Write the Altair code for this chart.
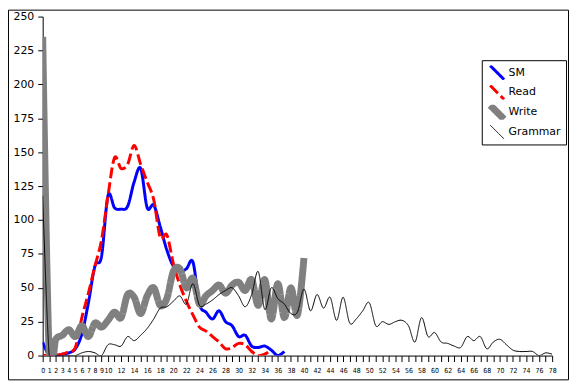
import altair as alt
import pandas as pd

series_names = ["SM", "Read", "Write", "Grammar"]
x_ticks = list(range(0, 79))
y_ticks = [0, 25, 50, 75, 100, 125, 150, 175, 200, 225, 250]

sm = [10, 0, 0, 1, 2, 5, 16, 39, 66, 73, 118, 109, 108, 110, 128, 138, 109, 111, 95, 78,
      66, 62, 64, 69, 38, 32, 27, 33, 25, 22, 14, 15, 7, 6, 7, 4, 0, 3]
read = [0, 0, 0, 1, 3, 6, 28, 46, 66, 85, 118, 146, 138, 141, 155, 141, 128, 115, 87, 89,
        68, 52, 40, 30, 21, 18, 14, 10, 5, 6, 9, 8, 3, 0, 1, 4]
write = [235, 0, 12, 15, 19, 14, 22, 14, 24, 21, 26, 32, 28, 45, 43, 31, 44, 50, 37, 42,
         62, 64, 50, 57, 38, 44, 48, 52, 46, 52, 54, 48, 56, 37, 56, 27, 53, 28, 50, 30, 72]
grammar = [118, 0, 0, 0, 0, 0, 2, 3, 2, 0, 8, 8, 7, 14, 11, 15, 20, 27, 35, 36,
           40, 44, 38, 53, 37, 38, 41, 45, 48, 50, 44, 36, 45, 62, 34, 50, 42, 38, 31, 32,
           49, 33, 45, 35, 43, 26, 43, 24, 27, 33, 39, 22, 25, 23, 25, 26, 22, 10, 28, 14,
           17, 10, 9, 7, 6, 14, 11, 14, 5, 10, 12, 8, 4, 3, 3, 3, 0, 2, 1]

colors = ["#0000FF", "#FF0000", "#808080", "#000000"]
dashes = [[1, 0], [11, 4], [1, 0], [1, 0]]
widths = [3, 3, 7, 1]

rows = []
for name, vals in zip(series_names, [sm, read, write, grammar]):
    for i, v in enumerate(vals):
        rows.append({"x": i, "y": v, "series": name})
df = pd.DataFrame(rows)

W, H = 514, 342
PL, PT, PR, PB = 35, 7, 17, 25

leg = alt.Legend(
    title=None, orient="none", legendX=443, legendY=44,
    symbolType="M-1,-1L1,1", symbolSize=196,
    labelFont="DejaVu Sans", labelFontSize=11, labelColor="black",
    padding=5, rowPadding=5, labelOffset=1, clipHeight=15,
    fillColor="white", strokeColor="black",
)

base = alt.Chart(df)

def series_layer(name):
    return base.transform_filter(alt.datum.series == name).mark_line(
        interpolate="cardinal", clip=True
    ).encode(
        x=alt.X("x:Q", scale=alt.Scale(domain=[0, 78], nice=False, zero=False),
                axis=alt.Axis(values=x_ticks, title=None, grid=False,
                              labelExpr="datum.value < 10 || datum.value % 2 == 0 ? datum.label : ''",
                              labelFont="Liberation Sans Narrow, DejaVu Sans Condensed, sans-serif",
                              labelFontSize=7, labelColor="black", labelOverlap=False,
                              tickSize=6, labelPadding=5, domainColor="black", tickColor="black",
                              labelFlush=False)),
        y=alt.Y("y:Q", scale=alt.Scale(domain=[0, 250], nice=False),
                axis=alt.Axis(values=y_ticks, title=None, grid=False,
                              labelFont="DejaVu Sans", labelFontSize=11, labelColor="black",
                              tickSize=5, labelPadding=4, domainColor="black", tickColor="black")),
        color=alt.Color("series:O", sort=series_names,
                        scale=alt.Scale(domain=series_names, range=colors), legend=leg),
        strokeDash=alt.StrokeDash("series:O", sort=series_names,
                                  scale=alt.Scale(domain=series_names, range=dashes), legend=leg),
        strokeWidth=alt.StrokeWidth("series:O", sort=series_names,
                                    scale=alt.Scale(type="ordinal", domain=series_names, range=widths), legend=leg),
    )

border = alt.Chart(pd.DataFrame({"a": [0]})).mark_rect(
    fill="transparent", stroke="black", strokeWidth=1
).encode(
    x=alt.value(-PL + 0.5), x2=alt.value(W + PR - 0.5),
    y=alt.value(-PT + 0.5), y2=alt.value(H + PB - 0.5),
)

chart = alt.layer(
    series_layer("SM"), series_layer("Read"), series_layer("Write"), series_layer("Grammar"), border
).properties(
    width=W, height=H,
    autosize=alt.AutoSizeParams(type="none"),
    padding={"left": PL, "top": PT, "right": PR, "bottom": PB},
    background="white",
).configure_view(stroke=None)

chart.save("out.html", embed_options={"renderer": "svg", "actions": False})
